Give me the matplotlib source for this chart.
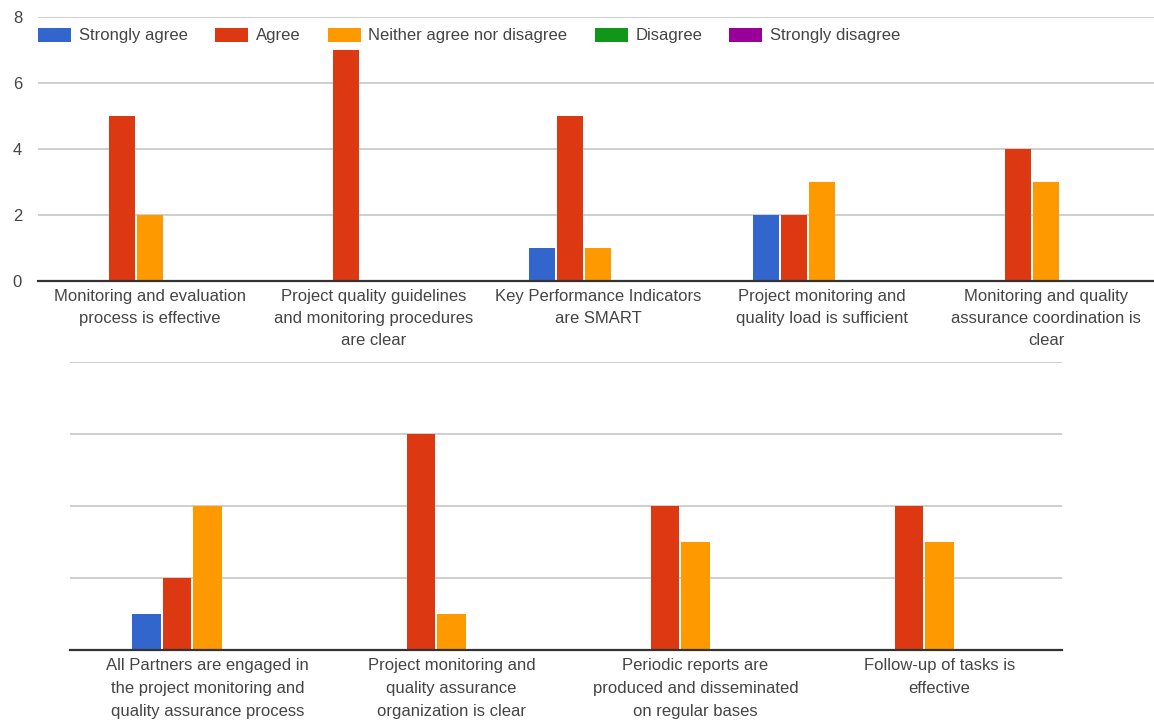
import matplotlib
matplotlib.use("Agg")
import matplotlib.pyplot as plt
import numpy as np
from matplotlib.patches import Patch

plt.rcParams['font.family'] = ['Liberation Sans', 'DejaVu Sans']

series = ["Strongly agree", "Agree", "Neither agree nor disagree", "Disagree", "Strongly disagree"]
colors = ["#3366CC", "#DC3912", "#FF9900", "#109618", "#990099"]

top_categories = [
    "Monitoring and evaluation\nprocess is effective",
    "Project quality guidelines\nand monitoring procedures\nare clear",
    "Key Performance Indicators\nare SMART",
    "Project monitoring and\nquality load is sufficient",
    "Monitoring and quality\nassurance coordination is\nclear",
]
top_strongly_agree = [0, 0, 1, 2, 0]
top_agree = [5, 7, 5, 2, 4]
top_neither = [2, 0, 1, 3, 3]
top_disagree = [0, 0, 0, 0, 0]
top_strongly_disagree = [0, 0, 0, 0, 0]

bottom_categories = [
    "All Partners are engaged in\nthe project monitoring and\nquality assurance process",
    "Project monitoring and\nquality assurance\norganization is clear",
    "Periodic reports are\nproduced and disseminated\non regular bases",
    "Follow-up of tasks is\neffective",
]
bottom_strongly_agree = [1, 0, 0, 0]
bottom_agree = [2, 6, 4, 4]
bottom_neither = [4, 1, 3, 3]
bottom_disagree = [0, 0, 0, 0]
bottom_strongly_disagree = [0, 0, 0, 0]

y_ticks = [0, 2, 4, 6, 8]

TEXT = "#444444"
W, H = 1154, 722
fig = plt.figure(figsize=(W / 100, H / 100), dpi=100)


def px_axes(left, top, right, bottom):
    return fig.add_axes([left / W, 1 - bottom / H, (right - left) / W, (bottom - top) / H])


def draw_panel(ax, cats, values, xlim, show_ylabels, pad, linespacing):
    x = np.arange(len(cats))
    slot = 0.125
    for k, (vals, col) in enumerate(zip(values, colors)):
        ax.bar(x + (k - 2) * slot, vals, width=slot * 0.93, color=col,
               edgecolor="none", zorder=3)
    ax.set_xlim(*xlim)
    ax.set_ylim(0, 8)
    ax.set_yticks(y_ticks)
    ax.grid(axis="y", color="#cccccc", linewidth=1.3, zorder=0)
    ax.set_axisbelow(True)
    for s in ["top", "right", "left"]:
        ax.spines[s].set_visible(False)
    ax.spines["bottom"].set_color("#333333")
    ax.spines["bottom"].set_linewidth(1.6)
    ax.spines["bottom"].set_zorder(4)
    ax.set_xticks(x)
    ax.set_xticklabels(cats, fontsize=12, color=TEXT, linespacing=linespacing)
    ax.tick_params(axis="x", length=0, pad=pad)
    if show_ylabels:
        ax.tick_params(axis="y", length=0, pad=11.5, labelsize=12, labelcolor=TEXT)
    else:
        ax.tick_params(axis="y", length=0, labelleft=False)


ax1 = px_axes(38, 17.3, 38 + 1120, 281)
draw_panel(ax1, top_categories,
           [top_strongly_agree, top_agree, top_neither, top_disagree, top_strongly_disagree],
           (-0.5, 4.5), True, 5.5, 1.6)

ax2 = px_axes(70, 362, 1062, 650)
draw_panel(ax2, bottom_categories,
           [bottom_strongly_agree, bottom_agree, bottom_neither, bottom_disagree, bottom_strongly_disagree],
           (-(207.5 - 70) / 244, 3 + (1062 - 939.5) / 244), False, 5.5, 1.7)

handles = [Patch(facecolor=c, edgecolor="none") for c in colors]
fig.legend(handles, series, loc="center left", bbox_to_anchor=(38 / W, 1 - 35.5 / H),
           ncol=5, frameon=False, fontsize=12, labelcolor=TEXT,
           handlelength=1.98, handleheight=0.9, handletextpad=0.48,
           columnspacing=1.62, borderpad=0, borderaxespad=0)

fig.savefig("out.png", dpi=100, facecolor="white")
